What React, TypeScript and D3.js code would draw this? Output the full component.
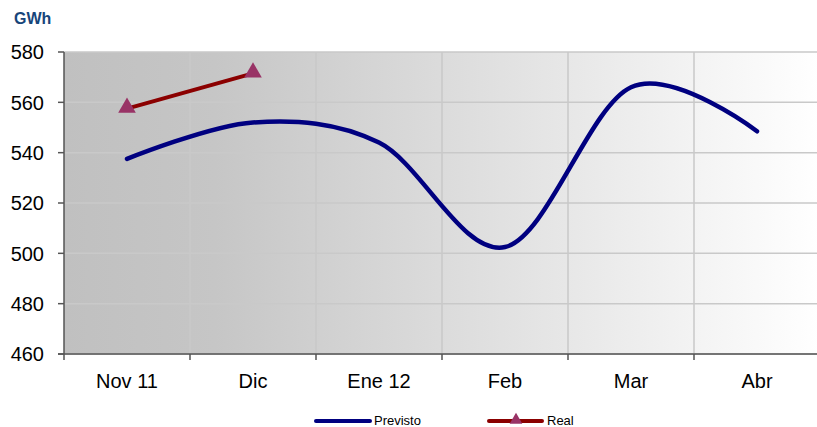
import React from "react";
import * as d3 from "d3";

const categories = ["Nov 11", "Dic", "Ene 12", "Feb", "Mar", "Abr"];
const previsto = [537.5, 552, 544, 502.5, 566, 548.5];
const real = [557.5, 571.5];
const yTicks = [460, 480, 500, 520, 540, 560, 580];

const W = 817;
const H = 427;
const left = 64;
const right = 820;
const top = 52;
const bottom = 354;

export default function App() {
  const x = d3.scaleBand<string>().domain(categories).range([left, right]).padding(0);
  const y = d3.scaleLinear().domain([460, 580]).range([bottom, top]);
  const cx = (i: number) => (x(categories[i]) as number) + x.bandwidth() / 2;

  const prevLine = d3
    .line<number>()
    .x((_, i) => cx(i))
    .y((d) => y(d))
    .curve(d3.curveCardinal.tension(0));
  const realLine = d3
    .line<number>()
    .x((_, i) => cx(i))
    .y((d) => y(d));

  const tri = d3.symbol().type(d3.symbolTriangle).size(135)();

  return (
    <svg
      width={W}
      height={H}
      style={{ position: "absolute", left: 0, top: 0, fontFamily: "Liberation Sans, Arial, sans-serif" }}
    >
      <defs>
        <linearGradient id="bg" x1="0" x2="1" y1="0" y2="0">
          <stop offset="0" stopColor="#c0c0c0" />
          <stop offset="0.2" stopColor="#c6c6c6" />
          <stop offset="1" stopColor="#ffffff" />
        </linearGradient>
      </defs>
      <rect x={left} y={top} width={right - left} height={bottom - top} fill="url(#bg)" />
      {yTicks.map((t) => (
        <line key={t} x1={left} x2={right} y1={y(t)} y2={y(t)} stroke="#c9c9c9" strokeWidth={1.5} />
      ))}
      {categories.slice(1).map((c) => (
        <line
          key={c}
          x1={x(c) as number}
          x2={x(c) as number}
          y1={top}
          y2={bottom}
          stroke="#c9c9c9"
          strokeWidth={1.5}
        />
      ))}
      {/* axes */}
      <line x1={left} x2={left} y1={top} y2={bottom + 6} stroke="#555" strokeWidth={1.5} />
      <line x1={left - 6} x2={right} y1={bottom} y2={bottom} stroke="#555" strokeWidth={1.5} />
      {yTicks.map((t) => (
        <g key={"yt" + t}>
          <line x1={left - 6} x2={left} y1={y(t)} y2={y(t)} stroke="#555" strokeWidth={1.5} />
          <text x={44} y={y(t)} dy="0.36em" textAnchor="end" fontSize={20} fill="#000">
            {t}
          </text>
        </g>
      ))}
      {categories.map((c, i) => (
        <g key={"xt" + c}>
          <line
            x1={(x(c) as number) + x.bandwidth()}
            x2={(x(c) as number) + x.bandwidth()}
            y1={bottom}
            y2={bottom + 6}
            stroke="#555"
            strokeWidth={1.5}
          />
          <text x={cx(i)} y={388} textAnchor="middle" fontSize={20} fill="#000">
            {c}
          </text>
        </g>
      ))}
      <text x={14} y={24} fontSize={16} fontWeight="bold" fill="#17457a">
        GWh
      </text>
      <path d={prevLine(previsto) || ""} fill="none" stroke="#000080" strokeWidth={4.5} strokeLinecap="round" />
      <path d={realLine(real) || ""} fill="none" stroke="#8b0000" strokeWidth={4} />
      {real.map((v, i) => (
        <path key={"m" + i} d={tri || ""} transform={`translate(${cx(i)},${y(v) - 1})`} fill="#993366" />
      ))}
      {/* legend */}
      <line x1={316} x2={370} y1={421} y2={421} stroke="#000080" strokeWidth={4} strokeLinecap="round" />
      <text x={374} y={425} fontSize={13} fill="#000">
        Previsto
      </text>
      <line x1={489} x2={542} y1={421} y2={421} stroke="#8b0000" strokeWidth={4} strokeLinecap="round" />
      <path d={d3.symbol().type(d3.symbolTriangle).size(70)() || ""} transform="translate(516,420)" fill="#993366" />
      <text x={547} y={425} fontSize={13} fill="#000">
        Real
      </text>
    </svg>
  );
}
